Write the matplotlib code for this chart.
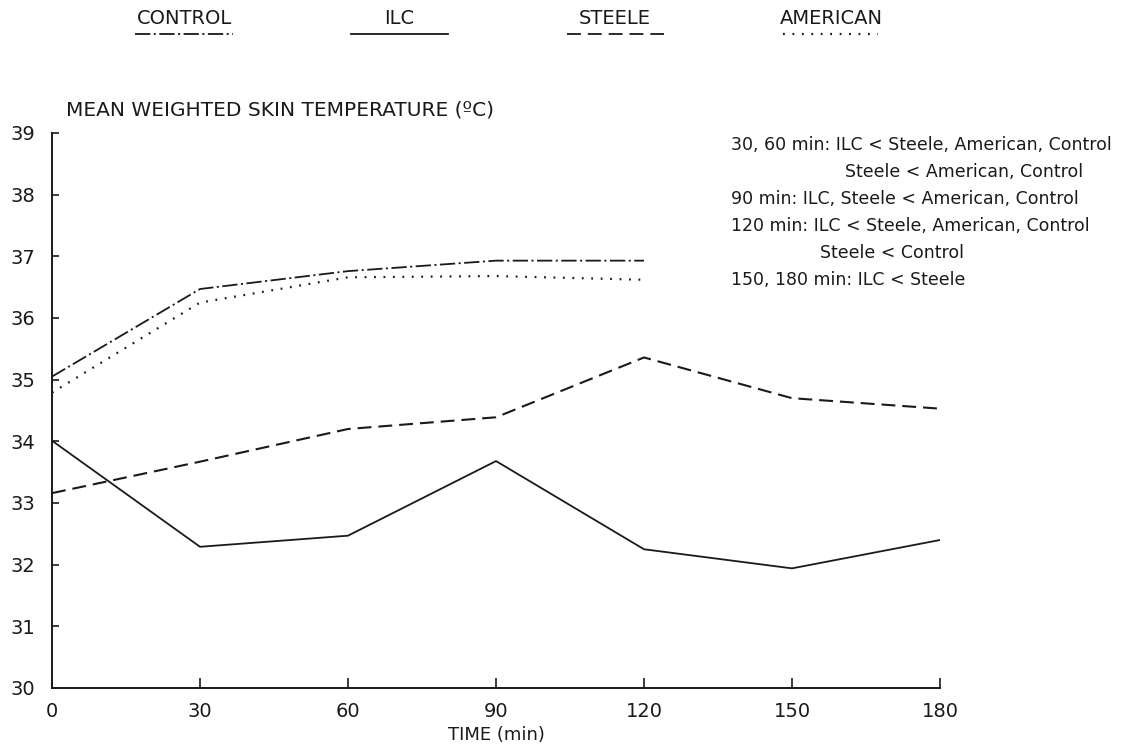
import matplotlib
matplotlib.use("Agg")
import matplotlib.pyplot as plt
from matplotlib.lines import Line2D

# --- Data ---
TIME = [0, 30, 60, 90, 120, 150, 180]
TIME_SHORT = [0, 30, 60, 90, 120]

CONTROL = [35.05, 36.47, 36.76, 36.93, 36.93]
AMERICAN = [34.79, 36.25, 36.66, 36.68, 36.62]
STEELE = [33.16, 33.67, 34.20, 34.39, 35.36, 34.70, 34.53]
ILC = [34.01, 32.29, 32.47, 33.68, 32.25, 31.94, 32.40]

X_TICKS = [0, 30, 60, 90, 120, 150, 180]
Y_TICKS = [30, 31, 32, 33, 34, 35, 36, 37, 38, 39]

NOTES = [
    (731, 145, "30, 60 min: ILC < Steele, American, Control"),
    (845, 172, "Steele < American, Control"),
    (731, 199, "90 min: ILC, Steele < American, Control"),
    (731, 226, "120 min: ILC < Steele, American, Control"),
    (820, 253, "Steele < Control"),
    (731, 280, "150, 180 min: ILC < Steele"),
]

# --- Styles ---
plt.rcParams['font.family'] = ['DejaVu Sans']
plt.rcParams['lines.scale_dashes'] = False
INK = '#1a1a1a'
LW = 1.3
STYLES = {
    "CONTROL": dict(linestyle=(0, (11, 2.5, 1.5, 2.5))),
    "ILC": dict(linestyle='-'),
    "STEELE": dict(linestyle=(0, (10, 5))),
    "AMERICAN": dict(linestyle=(0, (1.3, 5.5))),
}

W, H = 1148, 754
fig = plt.figure(figsize=(W / 100, H / 100), dpi=100)
fig.patch.set_facecolor('white')

def fx(px):
    return px / W

def fy(py):
    return 1 - py / H

ax = fig.add_axes([fx(52), fy(688), fx(940) - fx(52), fy(133) - fy(688)])
ax.set_facecolor('none')

ax.plot(TIME_SHORT, CONTROL, color=INK, lw=LW, **STYLES["CONTROL"])
ax.plot(TIME_SHORT, AMERICAN, color=INK, lw=LW + 0.3, **STYLES["AMERICAN"])
ax.plot(TIME, STEELE, color=INK, lw=LW + 0.2, **STYLES["STEELE"])
ax.plot(TIME, ILC, color=INK, lw=LW, **STYLES["ILC"])

ax.set_xlim(0, 180)
ax.set_ylim(30, 39)
ax.set_xticks(X_TICKS)
ax.set_yticks(Y_TICKS)
ax.set_xticklabels([str(t) for t in X_TICKS], fontsize=14, color=INK)
ax.set_yticklabels([str(t) for t in Y_TICKS], fontsize=14, color=INK)
ax.tick_params(axis='y', direction='in', length=5, width=1.2, pad=12, colors=INK)
ax.tick_params(axis='x', direction='in', length=7, width=1.2, pad=10, colors=INK)
for s in ['top', 'right']:
    ax.spines[s].set_visible(False)
for s in ['left', 'bottom']:
    ax.spines[s].set_linewidth(1.4)
    ax.spines[s].set_color(INK)

ax.set_xlabel('TIME (min)', fontsize=13, color=INK, labelpad=4)

# axis title inside the figure
fig.text(fx(66), fy(110), 'MEAN WEIGHTED SKIN TEMPERATURE (ºC)',
         fontsize=14.5, color=INK, va='center', ha='left')

# legend across the top
legend_items = [
    ("CONTROL", 184, 135, 233),
    ("ILC", 399, 351, 448),
    ("STEELE", 615, 567, 664),
    ("AMERICAN", 831, 783, 878),
]
for name, cx, x0, x1 in legend_items:
    fig.text(fx(cx), fy(19), name, fontsize=14, color=INK, ha='center', va='center')
    fig.add_artist(Line2D([fx(x0), fx(x1)], [fy(34), fy(34)], color=INK,
                          lw=LW + (0.3 if name == "AMERICAN" else 0), **STYLES[name]))

for x, y, txt in NOTES:
    fig.text(fx(x), fy(y), txt, fontsize=12.5, color=INK, ha='left', va='center')

plt.savefig('out.png', dpi=100, facecolor='white')
